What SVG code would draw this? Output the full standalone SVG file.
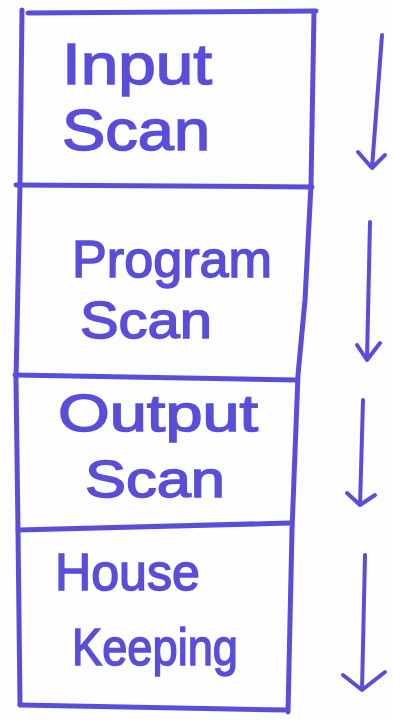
<svg xmlns="http://www.w3.org/2000/svg" width="393" height="721" viewBox="0 0 393 721">
<style>
.ln{fill:none;stroke:#5a4ed8;stroke-width:5;stroke-linecap:round;stroke-linejoin:round}
.ar{fill:none;stroke:#5a4ed8;stroke-width:4;stroke-linecap:round;stroke-linejoin:round}
.tx{font-family:"Liberation Sans","DejaVu Sans",sans-serif;font-size:52px;fill:#5a4ed8;stroke:#5a4ed8;stroke-width:1.5}
.big{font-size:57px}
</style>
<rect width="393" height="721" fill="#fdfdfe"/>
<g id="frame">
<path class="ln" d="M22,10 L20,185 L16,380 L18,530 L20,705"/>
<path class="ln" d="M314,12 L311,185 L305,300 L298,375 L292,530 L288,712"/>
</g>
<g id="input-scan">
<path class="ln" d="M28,13 L316,11"/>
<text class="tx big" x="62" y="84" textLength="150" lengthAdjust="spacingAndGlyphs">Input</text>
<text class="tx big" x="62" y="150" textLength="148" lengthAdjust="spacingAndGlyphs">Scan</text>
</g>
<g id="program-scan">
<path class="ln" d="M16,185 L312,187"/>
<text class="tx" x="72" y="277" textLength="200" lengthAdjust="spacingAndGlyphs">Program</text>
<text class="tx" x="80" y="338" textLength="132" lengthAdjust="spacingAndGlyphs">Scan</text>
</g>
<g id="output-scan">
<path class="ln" d="M15,375 L297,380"/>
<text class="tx" x="58" y="431" textLength="200" lengthAdjust="spacingAndGlyphs">Output</text>
<text class="tx" x="85" y="497" textLength="140" lengthAdjust="spacingAndGlyphs">Scan</text>
</g>
<g id="house-keeping">
<path class="ln" d="M18,530 L290,523"/>
<text class="tx" x="55" y="590" textLength="145" lengthAdjust="spacingAndGlyphs">House</text>
<text class="tx" x="72" y="665" textLength="166" lengthAdjust="spacingAndGlyphs">Keeping</text>
<path class="ln" d="M20,705 L285,710"/>
</g>
<g id="connectors">
<path class="ar" d="M382,35 L372,168 M358,152 L372,168 L385,155"/>
<path class="ar" d="M370,222 L367,360 M357,345 L367,360 L380,343"/>
<path class="ar" d="M363,400 L360,505 M347,493 L360,505 L375,495"/>
<path class="ar" d="M365,555 L362,690 M343,675 L362,690 L385,672"/>
</g>
</svg>
